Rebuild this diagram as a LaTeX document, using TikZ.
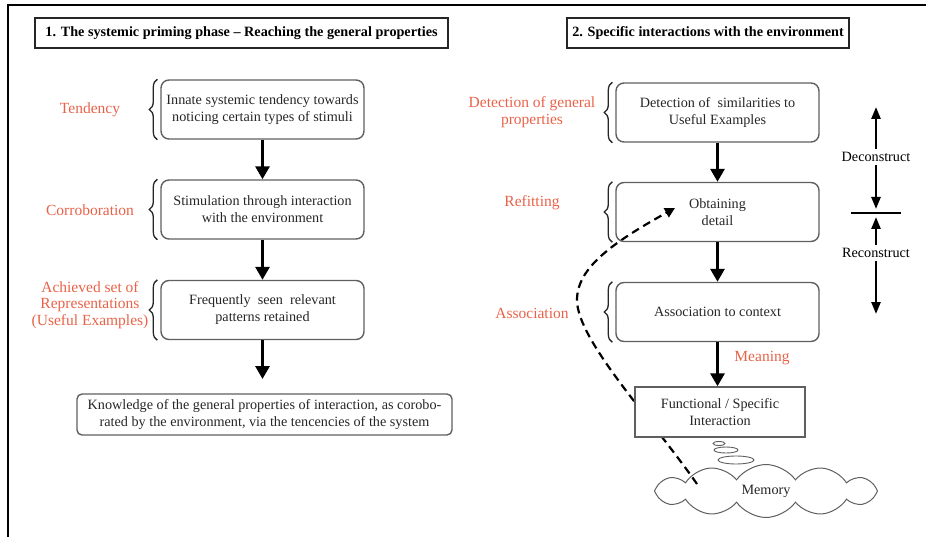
\documentclass[tikz,border=0pt]{standalone}
\usepackage{fontspec}
\setmainfont{Liberation Serif}
\usetikzlibrary{arrows.meta,decorations.pathreplacing,shapes.geometric,shapes.symbols,backgrounds}
\definecolor{lblred}{RGB}{232,98,72}
\definecolor{boxgray}{RGB}{95,95,95}

\begin{document}
\begin{tikzpicture}[x=1pt,y=-1pt,
    font=\fontsize{14.2}{17}\selectfont,
    stage/.style={draw=boxgray,line width=1.4pt,rounded corners=8pt,align=center,
      minimum width=203pt,minimum height=59pt,inner sep=2pt,text=black!85},
    heading/.style={draw=black!85,line width=1.5pt,font=\fontsize{14.2}{17}\selectfont\bfseries,
      minimum height=30pt,inner sep=3pt},
    lbl/.style={text=lblred,align=center,font=\fontsize{15.5}{16.5}\selectfont},
    flow/.style={-{Triangle[width=14pt,length=13pt]},line width=3pt},
    thin flow/.style={-{Triangle[width=9pt,length=12pt]},line width=2.5pt},
    bracket/.style={decorate,decoration={brace,amplitude=8pt},line width=1.3pt,draw=black!85}]
  \useasboundingbox (0,0) rectangle (926,537);
  \draw[line width=2.5pt] (926,5) -- (8,5) -- (8,537);

  % phase 1
  \node[heading,minimum width=413pt] (head1) at (241.5,33) {1. The systemic priming phase -- Reaching the general properties};
  \node[stage] (tend) at (262.5,109.5) {Innate systemic tendency towards\\noticing certain types of stimuli};
  \node[stage] (stim) at (262.5,209.5) {Stimulation through interaction\\with the environment};
  \node[stage] (freq) at (262.5,310) {Frequently\ \ seen\ \ relevant\\patterns retained};
  \node[stage,rounded corners=5pt,minimum width=375pt,minimum height=41pt] (know) at (264.5,414.5)
    {Knowledge of the general properties of interaction, as corobo-\\rated by the environment, via the tencencies of the system};
  \coordinate (know top) at (262.5,379);
  \draw[flow] (tend) -- (stim);
  \draw[flow] (stim) -- (freq);
  \draw[flow] (freq) -- (know top);
  \draw[bracket] ([xshift=-3pt]tend.south west) -- ([xshift=-3pt]tend.north west);
  \draw[bracket] ([xshift=-3pt]stim.south west) -- ([xshift=-3pt]stim.north west);
  \draw[bracket] ([xshift=-3pt]freq.south west) -- ([xshift=-3pt]freq.north west);
  \node[lbl] (tendlbl) at (90,110) {Tendency};
  \node[lbl] (corrlbl) at (90,210) {Corroboration};
  \node[lbl] (achlbl) at (90,305) {Achieved set of\\Representations\\(Useful Examples)};

  % phase 2
  \node[heading,minimum width=282pt] (head2) at (708,33) {2. Specific interactions with the environment};
  \node[stage] (detect) at (717.5,112.5) {Detection of\ \ similarities to\\Useful Examples};
  \node[stage] (detail) at (717.5,212) {Obtaining\\detail};
  \node[stage] (assoc) at (717.5,312) {Association to context};
  \node[draw=boxgray,line width=1.4pt,fill=white,align=center,text=black!85,
    minimum width=170pt,minimum height=50pt] (func) at (720,412) {Functional / Specific\\Interaction};
  \draw[flow] (detect) -- (detail);
  \draw[flow] (detail) -- (assoc);
  \draw[flow] (assoc.south) -- (assoc.south |- func.north);
  \draw[bracket] ([xshift=-3pt]detect.south west) -- ([xshift=-3pt]detect.north west);
  \draw[bracket] ([xshift=-3pt]detail.south west) -- ([xshift=-3pt]detail.north west);
  \draw[bracket] ([xshift=-3pt]assoc.south west) -- ([xshift=-3pt]assoc.north west);
  \node[lbl] (detlbl) at (532,112) {Detection of general\\properties};
  \node[lbl] (refitlbl) at (532,203) {Refitting};
  \node[lbl] (assoclbl) at (532,313) {Association};
  \node[lbl] (meanlbl) at (762,358) {Meaning};

  % memory
  \node[cloud,draw=boxgray,line width=1pt,cloud puffs=12,cloud puff arc=110,cloud ignores aspect,
    minimum width=223pt,minimum height=53pt,inner sep=0pt,text=black!85] (mem) at (766,491) {Memory};
  \node[ellipse,draw=boxgray,line width=0.9pt,minimum width=12pt,minimum height=4pt,inner sep=0pt] (bub1) at (719,443.5) {};
  \node[ellipse,draw=boxgray,line width=0.9pt,minimum width=24pt,minimum height=6pt,inner sep=0pt] (bub2) at (726,450) {};
  \node[ellipse,draw=boxgray,line width=0.9pt,minimum width=36pt,minimum height=8pt,inner sep=0pt] (bub3) at (736,460) {};
  \coordinate (recall) at (697,484);
  \coordinate (recall end) at (675,208);
  \begin{pgfonlayer}{background}
    \draw[line width=2.2pt,dash pattern=on 8pt off 5pt,-{Triangle[width=10pt,length=10pt]}]
      (recall) .. controls (651,418) and (577,340) .. (577,300)
      .. controls (577,268) and (612,243) .. (recall end);
  \end{pgfonlayer}

  % deconstruct / reconstruct
  \node (decon) at (876,157) {Deconstruct};
  \node (recon) at (876,253) {Reconstruct};
  \coordinate (decon tip) at (876,107);
  \coordinate (pivot) at (876,213);
  \coordinate (recon tip) at (876,314);
  \draw[thin flow] (decon) -- (decon tip);
  \draw[thin flow,shorten >=4pt] (decon) -- (pivot);
  \draw[thin flow,shorten >=4pt] (recon) -- (pivot);
  \draw[thin flow] (recon) -- (recon tip);
  \draw[line width=2pt] ([xshift=-25pt]pivot) -- ([xshift=25pt]pivot);
\end{tikzpicture}
\end{document}
